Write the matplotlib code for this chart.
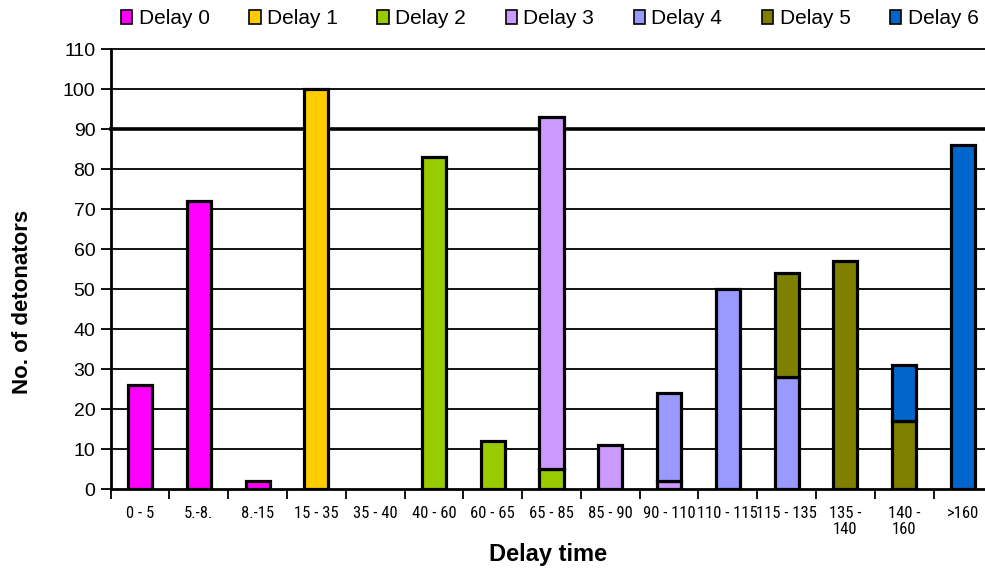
import matplotlib
matplotlib.use("Agg")
import matplotlib.pyplot as plt
import numpy as np
from matplotlib.patches import Patch

categories = ["0 - 5", "5.-8.", "8.-15", "15 - 35", "35 - 40", "40 - 60", "60 - 65",
              "65 - 85", "85 - 90", "90 - 110", "110 - 115", "115 - 135",
              "135 -\n140", "140 -\n160", ">160"]

delay_0 = [26, 72, 2, 0, 0, 0, 0, 0, 0, 0, 0, 0, 0, 0, 0]
delay_1 = [0, 0, 0, 100, 0, 0, 0, 0, 0, 0, 0, 0, 0, 0, 0]
delay_2 = [0, 0, 0, 0, 0, 83, 12, 5, 0, 0, 0, 0, 0, 0, 0]
delay_3 = [0, 0, 0, 0, 0, 0, 0, 88, 11, 2, 0, 0, 0, 0, 0]
delay_4 = [0, 0, 0, 0, 0, 0, 0, 0, 0, 22, 50, 28, 0, 0, 0]
delay_5 = [0, 0, 0, 0, 0, 0, 0, 0, 0, 0, 0, 26, 57, 17, 0]
delay_6 = [0, 0, 0, 0, 0, 0, 0, 0, 0, 0, 0, 0, 0, 14, 86]

series_names = ["Delay 0", "Delay 1", "Delay 2", "Delay 3", "Delay 4", "Delay 5", "Delay 6"]
series_values = [delay_0, delay_1, delay_2, delay_3, delay_4, delay_5, delay_6]
colors = ["#FF00FF", "#FFCC00", "#99CC00", "#CC99FF", "#9999FF", "#808000", "#0066CC"]

SANS = ["Liberation Sans", "DejaVu Sans"]
NARROW = ["Liberation Sans Narrow", "Roboto Condensed", "DejaVu Sans"]

fig = plt.figure(figsize=(9.85, 5.73), dpi=100)
ax = fig.add_axes([110.6 / 985, 84 / 573, (992.4 - 110.6) / 985, 440 / 573])

x = np.arange(len(categories))
bottom = np.zeros(len(categories))
for name, vals, col in zip(series_names, series_values, colors):
    v = np.array(vals, dtype=float)
    m = v > 0
    ax.bar(x[m], v[m], bottom=bottom[m], width=0.41, color=col,
           edgecolor="black", linewidth=2.3, zorder=3)
    bottom += v

ax.set_xlim(-0.5, len(categories) - 0.5)
ax.set_ylim(0, 110)
ax.set_yticks(np.arange(0, 111, 10))
for yv in range(10, 111, 10):
    ax.axhline(yv, color="black", lw=2.6 if yv == 90 else 1.3, zorder=1, clip_on=False)

ax.spines["top"].set_visible(False)
ax.spines["right"].set_visible(False)
ax.spines["left"].set_linewidth(2)
ax.spines["bottom"].set_linewidth(2)

# category separators as major ticks, labels on minor ticks at bar centres
ax.set_xticks(np.arange(len(categories) + 1) - 0.5)
ax.set_xticklabels([])
ax.tick_params(axis="x", which="major", length=7, width=1.3, direction="out")
ax.set_xticks(x, minor=True)
ax.set_xticklabels(categories, minor=True, fontdict={"family": NARROW, "size": 12},
                   linespacing=1.15)
ax.tick_params(axis="x", which="minor", length=0, pad=12)
ax.tick_params(axis="y", length=7, width=1.3, direction="out", labelsize=14, pad=4)
for t in ax.get_yticklabels():
    t.set_family(SANS)

ax.set_ylabel("No. of detonators", fontsize=16, fontweight="bold", family=SANS)
ax.yaxis.set_label_coords(-0.088, 0.425)
ax.set_xlabel("Delay time", fontsize=17, fontweight="bold", family=SANS)
ax.xaxis.set_label_coords(0.496, -0.123)

handles = [Patch(facecolor=c, edgecolor="black", linewidth=1.2, label=n)
           for n, c in zip(series_names, colors)]
fig.legend(handles=handles, loc="center left", bbox_to_anchor=(121 / 985, 1 - 19 / 573),
           ncol=7, frameon=False, handlelength=0.55, handleheight=0.65,
           handletextpad=0.3, columnspacing=1.9, borderpad=0, borderaxespad=0,
           prop={"family": SANS, "size": 15})

fig.savefig("out.png", dpi=100)
